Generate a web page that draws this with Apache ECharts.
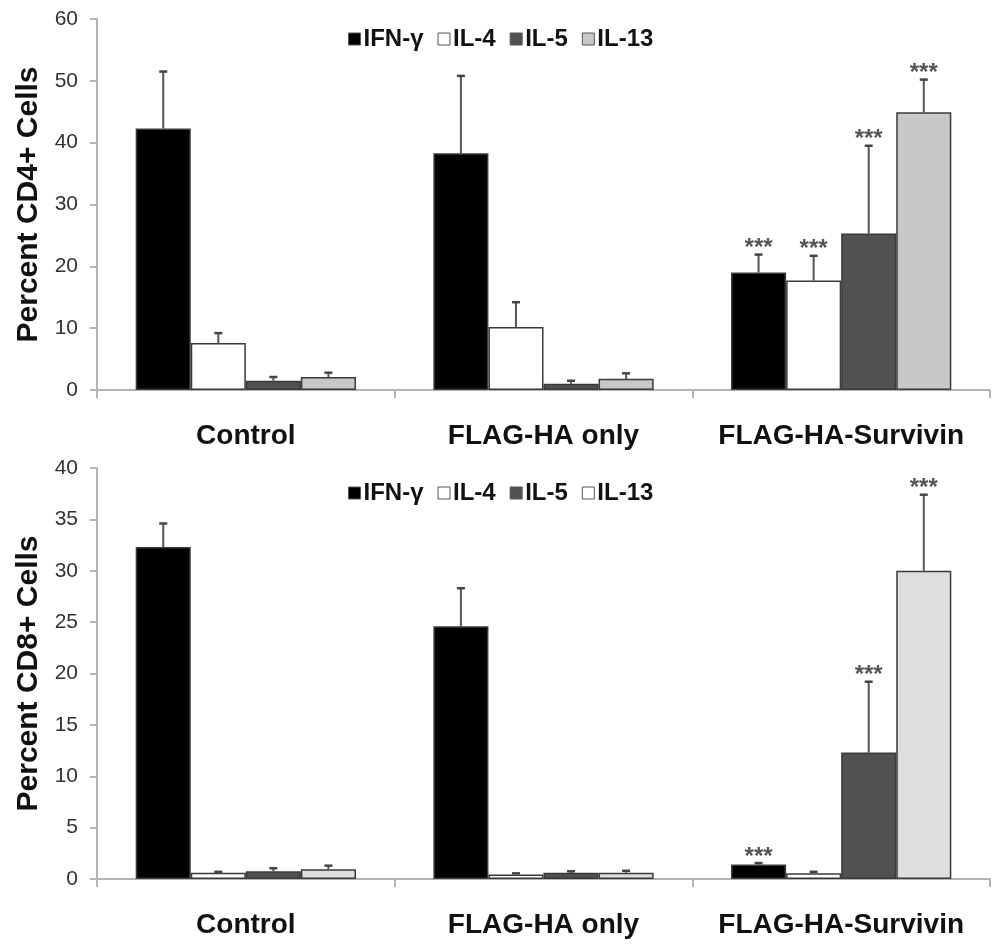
<!DOCTYPE html>
<html>
<head>
<meta charset="utf-8">
<script src="https://cdn.jsdelivr.net/npm/echarts@6/dist/echarts.min.js"></script>
<style>
html, body { margin: 0; padding: 0; background: #fff; }
#main { width: 995px; height: 944px; }
</style>
</head>
<body>
<div id="main"></div>
<script>
// groups on the x axis
var categories = ['Control', 'FLAG-HA only', 'FLAG-HA-Survivin'];
var cytokines = ['IFN-γ', 'IL-4', 'IL-5', 'IL-13'];

// CD4+ panel: means and error (SD) per cytokine
var cd4IFN = [42.3, 38.3, 19.0];
var cd4IL4 = [7.6, 10.2, 17.7];
var cd4IL5 = [1.5, 1.0, 25.3];
var cd4IL13 = [2.1, 1.8, 44.9];
var cd4IFNErr = [9.2, 12.5, 2.9];
var cd4IL4Err = [1.6, 4.0, 4.0];
var cd4IL5Err = [0.6, 0.5, 14.2];
var cd4IL13Err = [0.7, 0.9, 5.3];
var cd4Stars = [[0, 0, 1], [0, 0, 1], [0, 0, 1], [0, 0, 1]];

// CD8+ panel
var cd8IFN = [32.3, 24.6, 1.4];
var cd8IL4 = [0.6, 0.45, 0.55];
var cd8IL5 = [0.75, 0.6, 12.3];
var cd8IL13 = [0.95, 0.6, 30.0];
var cd8IFNErr = [2.3, 3.7, 0.15];
var cd8IL4Err = [0.1, 0.1, 0.15];
var cd8IL5Err = [0.3, 0.15, 6.9];
var cd8IL13Err = [0.35, 0.2, 7.4];
var cd8Stars = [[0, 0, 1], [0, 0, 0], [0, 0, 1], [0, 0, 1]];

var cd4Ticks = { min: 0, max: 60, interval: 10 };
var cd8Ticks = { min: 0, max: 40, interval: 5 };

var gapRatio = 0.26;
var cd4Colors = ['#000000', '#ffffff', '#515151', '#c8c8c8'];
var cd8Colors = ['#000000', '#ffffff', '#515151', '#dedede'];

function errRows(means, errs, stars) {
    var rows = [];
    for (var k = 0; k < means.length; k++) {
        for (var c = 0; c < means[k].length; c++) {
            rows.push([c, means[k][c], errs[k][c], k, stars[k][c]]);
        }
    }
    return rows;
}

function renderErr(params, api) {
    var cat = api.value(0), val = api.value(1), sd = api.value(2);
    var k = api.value(3), star = api.value(4);
    var band = api.size([1, 0])[0];
    var bw = band * (1 - gapRatio) / 4;
    var base = api.coord([cat, val]);
    var x = base[0] + (k - 1.5) * bw;
    var top = api.coord([cat, val + sd])[1];
    var kids = [
        { type: 'line', shape: { x1: x, y1: base[1], x2: x, y2: top }, style: { stroke: '#555', lineWidth: 2 } },
        { type: 'line', shape: { x1: x - 4, y1: top, x2: x + 4, y2: top }, style: { stroke: '#444', lineWidth: 2.5 } }
    ];
    if (star) {
        kids.push({
            type: 'text',
            style: { text: '***', x: x, y: top + 6, align: 'center', verticalAlign: 'bottom',
                font: 'bold 24px "Liberation Sans", Arial', fill: '#555' }
        });
    }
    return { type: 'group', children: kids };
}

function axisX(gridIndex) {
    return {
        type: 'category', gridIndex: gridIndex, data: categories,
        axisLine: { lineStyle: { color: '#b3b3b3', width: 2 } },
        axisTick: { show: true, interval: 0, length: 8, lineStyle: { color: '#b3b3b3', width: 2 } },
        axisLabel: { interval: 0, margin: 32, color: '#111', fontSize: 28, fontWeight: 'bold', fontFamily: 'Liberation Sans' }
    };
}

function axisY(gridIndex, ticks, name) {
    return {
        type: 'value', gridIndex: gridIndex, min: ticks.min, max: ticks.max, interval: ticks.interval,
        name: name, nameLocation: 'middle', nameGap: 50, nameRotate: 90,
        nameTextStyle: { color: '#111', fontSize: 30, fontWeight: 'bold', fontFamily: 'Liberation Sans' },
        axisLine: { show: true, lineStyle: { color: '#b3b3b3', width: 2 } },
        axisTick: { show: true, length: 7, lineStyle: { color: '#b3b3b3', width: 2 } },
        splitLine: { show: false },
        axisLabel: { margin: 19, color: '#333', fontSize: 21, fontFamily: 'Liberation Sans' }
    };
}

function barSeries(gridIndex, means, colors) {
    return means.map(function (vals, k) {
        return {
            name: cytokines[k], type: 'bar', xAxisIndex: gridIndex, yAxisIndex: gridIndex,
            data: vals, barGap: 0, barCategoryGap: (gapRatio * 100) + '%',
            itemStyle: { color: colors[k], borderColor: '#3a3a3a', borderWidth: 1.5 },
            emphasis: { disabled: true }
        };
    });
}

var legendText = { fontSize: 24, fontWeight: 'bold', color: '#111', fontFamily: 'Liberation Sans', padding: [0, 0, 0, -2] };

var cd4Means = [cd4IFN, cd4IL4, cd4IL5, cd4IL13];
var cd4Errs = [cd4IFNErr, cd4IL4Err, cd4IL5Err, cd4IL13Err];
var cd8Means = [cd8IFN, cd8IL4, cd8IL5, cd8IL13];
var cd8Errs = [cd8IFNErr, cd8IL4Err, cd8IL5Err, cd8IL13Err];

var myChart = echarts.init(document.getElementById('main'));
var option = {
    animation: false,
    backgroundColor: '#fff',
    grid: [
        { left: 97, right: 5, top: 19, height: 371 },
        { left: 97, right: 5, top: 468, height: 411 }
    ],
    legend: [
        { left: 343, top: 22, itemWidth: 12, itemHeight: 12, itemGap: 14, icon: 'rect',
          selectedMode: false, textStyle: legendText,
          itemStyle: { borderColor: '#555', borderWidth: 1 },
          data: cytokines.map(function (n, k) { return { name: n, itemStyle: { color: cd4Colors[k] } }; }) },
        { left: 343, top: 476, itemWidth: 12, itemHeight: 12, itemGap: 14, icon: 'rect',
          selectedMode: false, textStyle: legendText,
          itemStyle: { borderColor: '#555', borderWidth: 1 },
          data: cytokines.map(function (n, k) { return { name: n, itemStyle: { color: k === 3 ? '#ffffff' : cd8Colors[k] } }; }) }
    ],
    xAxis: [axisX(0), axisX(1)],
    yAxis: [axisY(0, cd4Ticks, 'Percent CD4+ Cells'), axisY(1, cd8Ticks, 'Percent CD8+ Cells')],
    series: barSeries(0, cd4Means, cd4Colors)
        .concat(barSeries(1, cd8Means, cd8Colors))
        .concat([
            { type: 'custom', name: 'cd4err', xAxisIndex: 0, yAxisIndex: 0, z: 5, clip: false,
              renderItem: renderErr, encode: { x: 0, y: 1 }, data: errRows(cd4Means, cd4Errs, cd4Stars) },
            { type: 'custom', name: 'cd8err', xAxisIndex: 1, yAxisIndex: 1, z: 5, clip: false,
              renderItem: renderErr, encode: { x: 0, y: 1 }, data: errRows(cd8Means, cd8Errs, cd8Stars) }
        ])
};
myChart.setOption(option);
</script>
</body>
</html>
